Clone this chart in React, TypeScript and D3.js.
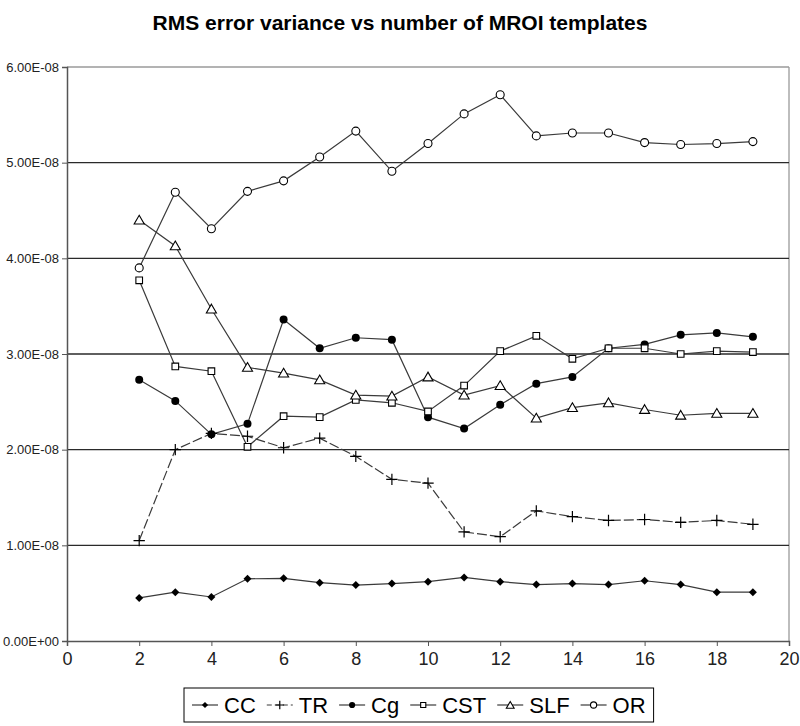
import { useRef, useEffect } from 'react'
import * as d3 from 'd3'

const W = 800
const H = 726
const MARGIN = { top: 67, right: 11, bottom: 85, left: 67 }
const FONT = "'Liberation Sans', Arial, sans-serif"
const NARROW = "'Liberation Sans Narrow', 'Arial Narrow', 'Liberation Sans', sans-serif"
const LINE_COLOR = '#3a3a3a'
const GRID_COLOR = '#2a2a2a'

const TITLE = 'RMS error variance vs number of MROI templates'
const TEMPLATES = [2, 3, 4, 5, 6, 7, 8, 9, 10, 11, 12, 13, 14, 15, 16, 17, 18, 19]

// values in units of 1e-8
const CC = [0.45, 0.51, 0.46, 0.65, 0.655, 0.61, 0.585, 0.6, 0.62, 0.665, 0.62, 0.59, 0.6, 0.59, 0.63, 0.59, 0.51, 0.51]
const TR = [1.05, 2.0, 2.17, 2.14, 2.02, 2.12, 1.93, 1.69, 1.65, 1.14, 1.09, 1.36, 1.3, 1.26, 1.27, 1.24, 1.26, 1.22]
const CG = [2.73, 2.51, 2.16, 2.27, 3.36, 3.06, 3.17, 3.15, 2.34, 2.22, 2.47, 2.69, 2.76, 3.06, 3.1, 3.2, 3.22, 3.18]
const CST = [3.77, 2.87, 2.82, 2.03, 2.35, 2.34, 2.52, 2.49, 2.4, 2.67, 3.03, 3.19, 2.95, 3.06, 3.06, 3.0, 3.03, 3.02]
const SLF = [4.4, 4.13, 3.47, 2.86, 2.8, 2.73, 2.57, 2.56, 2.76, 2.57, 2.67, 2.33, 2.44, 2.49, 2.42, 2.36, 2.38, 2.38]
const OR = [3.9, 4.69, 4.31, 4.7, 4.81, 5.06, 5.33, 4.91, 5.2, 5.51, 5.71, 5.28, 5.31, 5.31, 5.21, 5.19, 5.2, 5.22]

type Marker = 'diamond' | 'plus' | 'dot' | 'square' | 'triangle' | 'circle'
interface Series { name: string; values: number[]; marker: Marker; dashed?: boolean }

const SERIES: Series[] = [
  { name: 'CC', values: CC, marker: 'diamond' },
  { name: 'TR', values: TR, marker: 'plus', dashed: true },
  { name: 'Cg', values: CG, marker: 'dot' },
  { name: 'CST', values: CST, marker: 'square' },
  { name: 'SLF', values: SLF, marker: 'triangle' },
  { name: 'OR', values: OR, marker: 'circle' },
]

const fmtExp = (v: number) => {
  const [m, e] = v.toExponential(2).split('e')
  const sign = e[0] === '-' ? '-' : '+'
  const digits = e.replace(/[+-]/, '').padStart(2, '0')
  return `${m}E${sign}${digits}`
}

function drawMarker(g: d3.Selection<SVGGElement, unknown, null, undefined>, kind: Marker, cx: number, cy: number, scale = 1) {
  const t = `translate(${cx},${cy})`
  if (kind === 'diamond') {
    g.append('path').attr('d', d3.symbol(d3.symbolSquare, 32 * scale)()!)
      .attr('transform', `${t} rotate(45)`).attr('fill', '#000')
  } else if (kind === 'plus') {
    g.append('path').attr('transform', t).attr('d', d3.symbol(d3.symbolPlus, 44 * scale)()!)
      .attr('fill', 'none').attr('stroke', '#000').attr('stroke-width', 1.2)
  } else if (kind === 'dot') {
    g.append('circle').attr('cx', cx).attr('cy', cy).attr('r', 4 * Math.sqrt(scale)).attr('fill', '#000')
  } else if (kind === 'square') {
    g.append('path').attr('transform', t).attr('d', d3.symbol(d3.symbolSquare, 44 * scale)()!)
      .attr('fill', '#fff').attr('stroke', '#000').attr('stroke-width', 1.1)
  } else if (kind === 'triangle') {
    g.append('path').attr('transform', `translate(${cx},${cy + 1})`).attr('d', d3.symbol(d3.symbolTriangle, 44 * scale)()!)
      .attr('fill', '#fff').attr('stroke', '#000').attr('stroke-width', 1.1)
  } else {
    g.append('circle').attr('cx', cx).attr('cy', cy).attr('r', 4 * Math.sqrt(scale))
      .attr('fill', '#fff').attr('stroke', '#000').attr('stroke-width', 1.1)
  }
}

export default function App() {
  const svgRef = useRef<SVGSVGElement>(null)

  useEffect(() => {
    const svg = svgRef.current
    if (!svg) return
    const sel = d3.select(svg)
    sel.selectAll('*').remove()

    const w = W - MARGIN.left - MARGIN.right
    const h = H - MARGIN.top - MARGIN.bottom

    const x = d3.scaleLinear().domain([0, 20]).range([0, w])
    const y = d3.scaleLinear().domain([0, 6e-8]).range([h, 0])

    sel.append('rect').attr('width', W).attr('height', H).attr('fill', '#fff')

    sel.append('text')
      .attr('x', 400).attr('y', 30)
      .attr('text-anchor', 'middle')
      .attr('font-family', FONT).attr('font-weight', 'bold').attr('font-size', 21)
      .attr('fill', '#000')
      .text(TITLE)

    const g = sel.append('g').attr('transform', `translate(${MARGIN.left},${MARGIN.top})`)

    // plot frame (top + right)
    g.append('line').attr('x1', 0).attr('x2', w).attr('y1', 0).attr('y2', 0).attr('stroke', '#9a9a9a').attr('stroke-width', 1.3)
    g.append('line').attr('x1', w).attr('x2', w).attr('y1', 0).attr('y2', h).attr('stroke', '#9a9a9a').attr('stroke-width', 1.3)

    // gridlines
    const yTicks = d3.range(1, 6).map((d) => d * 1e-8)
    g.selectAll('.grid').data(yTicks).enter().append('line')
      .attr('x1', 0).attr('x2', w)
      .attr('y1', (d) => y(d)).attr('y2', (d) => y(d))
      .attr('stroke', GRID_COLOR).attr('stroke-width', 1.4)

    const yAxis = d3.axisLeft(y).tickValues(d3.range(0, 7).map((d) => d * 1e-8)).tickFormat((d) => fmtExp(d as number)).tickSize(5).tickPadding(3)
    g.append('g').call(yAxis)
      .call((a) => a.select('.domain').attr('stroke', '#555').attr('stroke-width', 1.5))
      .call((a) => a.selectAll('.tick line').attr('stroke', '#555'))
      .call((a) => a.selectAll('.tick text').attr('fill', '#222').attr('font-size', 13).attr('font-family', FONT))

    const xAxis = d3.axisBottom(x).tickValues(d3.range(0, 21, 2)).tickSize(5).tickPadding(6).tickFormat((d) => String(d))
    g.append('g').attr('transform', `translate(0,${h})`).call(xAxis)
      .call((a) => a.select('.domain').attr('stroke', '#555').attr('stroke-width', 1.5))
      .call((a) => a.selectAll('.tick line').attr('stroke', '#555'))
      .call((a) => a.selectAll('.tick text').attr('fill', '#222').attr('font-size', 18).attr('font-family', NARROW))

    const line = d3.line<number>().x((_, i) => x(TEMPLATES[i])).y((d) => y(d * 1e-8))

    SERIES.forEach((s) => {
      g.append('path')
        .datum(s.values)
        .attr('d', line)
        .attr('fill', 'none')
        .attr('stroke', LINE_COLOR)
        .attr('stroke-width', 1.2)
        .attr('stroke-dasharray', s.dashed ? '10,3' : null)
    })
    SERIES.forEach((s) => {
      const mg = g.append('g')
      s.values.forEach((v, i) => drawMarker(mg, s.marker, x(TEMPLATES[i]), y(v * 1e-8)))
    })

    // legend
    const leg = sel.append('g')
    const box = leg.append('rect').attr('y', 688).attr('height', 34).attr('fill', '#fff').attr('stroke', '#000').attr('stroke-width', 1)
    let cx = 192
    SERIES.forEach((s) => {
      const ly = 705
      leg.append('line').attr('x1', cx).attr('x2', cx + 26).attr('y1', ly).attr('y2', ly)
        .attr('stroke', LINE_COLOR).attr('stroke-width', 1.2).attr('stroke-dasharray', s.dashed ? '5,3' : null)
      drawMarker(leg, s.marker, cx + 13, ly, 0.6)
      const t = leg.append('text').attr('x', cx + 32).attr('y', ly).attr('dy', '0.36em')
        .attr('font-family', FONT).attr('font-size', 22).attr('fill', '#000').text(s.name)
      const tw = (t.node() as SVGTextElement).getComputedTextLength()
      cx += 32 + tw + 11
    })
    box.attr('x', 184).attr('width', cx - 11 + 8 - 184)
  }, [])

  return (
    <div style={{ position: 'absolute', left: 0, top: 0 }}>
      <svg ref={svgRef} width={W} height={H} style={{ display: 'block' }} />
    </div>
  )
}
